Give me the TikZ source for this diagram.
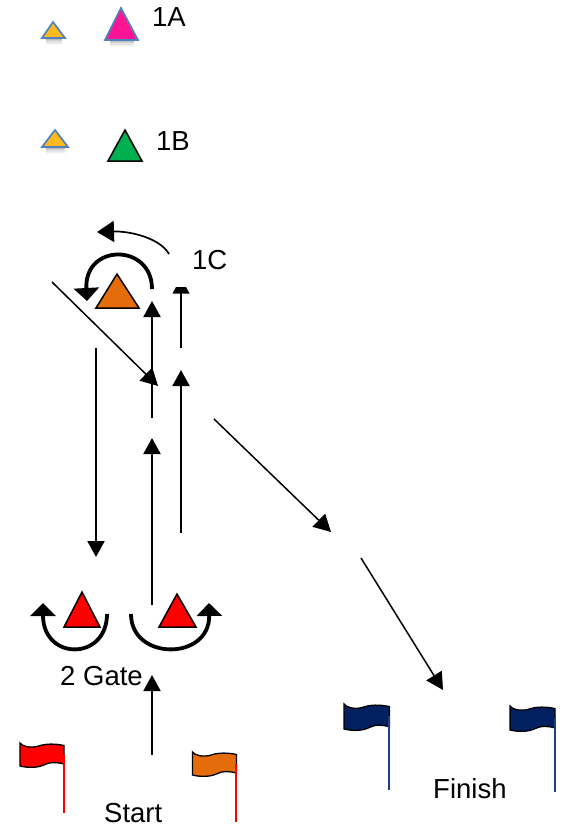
\documentclass[tikz,border=0pt]{standalone}
\usepackage{fontspec}
\setmainfont{Liberation Sans}
\usetikzlibrary{arrows.meta}
\definecolor{pinkfill}{HTML}{FF1493}
\definecolor{yellowfill}{HTML}{FFB91D}
\definecolor{blueedge}{HTML}{4F81BD}
\definecolor{greenfill}{HTML}{00B050}
\definecolor{orangefill}{HTML}{E46C0A}
\definecolor{navyfill}{HTML}{002060}
\definecolor{polenavy}{HTML}{1F3F80}
\tikzset{
  x=1pt,y=-1pt,
  label/.style={font=\fontsize{27.5}{30}\selectfont,anchor=base west,inner sep=0pt},
  bluetri/.style={draw=blueedge,line width=1.7pt,line join=miter},
  blacktri/.style={draw=black,line width=1.5pt,line join=miter},
  midarrow/.style={draw=black,line width=2pt,-{Triangle[length=16pt,width=17pt]}},
  thinarrow/.style={draw=black,line width=1.5pt,-{Triangle[length=17pt,width=18pt]}},
  turnarrow/.style={draw=black,line width=3.8pt,-{Triangle[length=13pt,width=25pt]}},
  flagedge/.style={draw=black,line width=1.3pt},
}
% #1 left x, #2 top y, #3 width, #4 height, #5 fill, #6 pole colour, #7 pole bottom y
\newcommand{\flagmark}[7]{%
  \begin{scope}[shift={(#1,#2)},x=#3pt/44,y=-#4pt/23]
    \path[flagedge,fill=#5] (0,-1) .. controls (2,2) and (9,4) .. (17,2.5)
      .. controls (25,-0.5) and (35,-0.5) .. (44,1.5) -- (44,20)
      .. controls (36,18) and (30,18) .. (25,20.5)
      .. controls (18,24) and (8,24) .. (0,22) -- cycle;
  \end{scope}
  \fill[#6] (#1+#3-1.5,#2+11) rectangle (#1+#3+0.5,#7);
}
\newcommand{\shadowbar}[3]{%
  \foreach \k/\o in {0/0.26,1/0.18,2/0.11,3/0.06,4/0.03}{
    \fill[black,opacity=\o] (#1,#3+\k*1.2) rectangle (#2,#3+\k*1.2+1.2);
  }
}
\begin{document}
\begin{tikzpicture}
\useasboundingbox (0,0) rectangle (566,827);
% named ends
\coordinate (a1s) at (152,418); \coordinate (a1e) at (152,301);
\coordinate (a2s) at (181,348); \coordinate (a2e) at (181,293);
\coordinate (a3s) at (52,282);  \coordinate (a3e) at (158,386);
\coordinate (a4s) at (181,533); \coordinate (a4e) at (181,370);
\coordinate (a5s) at (152,605); \coordinate (a5e) at (152,438);
\coordinate (a6s) at (96,348);  \coordinate (a6e) at (96,557);
\coordinate (a7s) at (214,419); \coordinate (a7e) at (331,532);
\coordinate (a8s) at (361,558); \coordinate (a8e) at (443,690);
\coordinate (a9s) at (152,755); \coordinate (a9e) at (152,675);
% top triangles
\shadowbar{46}{62}{39}
\shadowbar{110}{134}{41}
\shadowbar{46}{65}{148}
\draw[bluetri,fill=yellowfill] (53,22) -- (65,38) -- (42,38) -- cycle;
\draw[bluetri,fill=pinkfill] (121,8) -- (138,40) -- (105,40) -- cycle;
\draw[bluetri,fill=yellowfill] (55,130) -- (68,147) -- (42,147) -- cycle;
\draw[blacktri,fill=greenfill] (125,130) -- (142,161) -- (108,161) -- cycle;
\node[label] (l1a) at (152,27) {1A};
\node[label] (l1b) at (156,150) {1B};
\node[label] (l1c) at (192,269) {1C};
% 1C turn
\draw[blacktri,fill=orangefill] (117,274) -- (139,308) -- (96,308) -- cycle;
\draw[turnarrow] (152,289) .. controls (152,243) and (84,243) .. (87,301);
\draw[draw=black,line width=1.7pt,-{Triangle[length=17pt,width=21pt]}] (169,254) .. controls (160,238) and (130,231) .. (97,232);
% straight arrows
\draw[midarrow] (a1s) -- (a1e);
\draw[draw=black,line width=1.7pt] (a2s) -- (a2e);
\fill[black] (176,287) -- (186,287) -- (189.5,293.5) -- (172.5,293.5) -- cycle;
\draw[thinarrow] (a3s) -- (a3e);
\draw[midarrow] (a4s) -- (a4e);
\draw[midarrow] (a5s) -- (a5e);
\draw[midarrow] (a6s) -- (a6e);
\draw[thinarrow] (a7s) -- (a7e);
\draw[thinarrow] (a8s) -- (a8e);
\draw[midarrow] (a9s) -- (a9e);
% gate
\draw[blacktri,fill=red] (82,592) -- (100,627) -- (64,627) -- cycle;
\draw[blacktri,fill=red] (177,594) -- (196,627) -- (159,627) -- cycle;
\draw[turnarrow] (107,614) .. controls (107,661) and (43,661) .. (43,603);
\draw[turnarrow] (131,614) .. controls (131,661) and (210,661) .. (209,603);
\node[label] (lgate) at (60,685) {2 Gate};
\node[label] (lstart) at (104,822) {Start};
\node[label] (lfinish) at (433,798) {Finish};
% flags
\flagmark{20}{744}{44}{23}{red}{red}{813}
\flagmark{192.5}{753}{44}{23}{orangefill}{red}{822}
\flagmark{344}{705}{45.5}{25}{navyfill}{polenavy}{790}
\flagmark{510}{707}{45}{24}{navyfill}{polenavy}{792}
\end{tikzpicture}
\end{document}
